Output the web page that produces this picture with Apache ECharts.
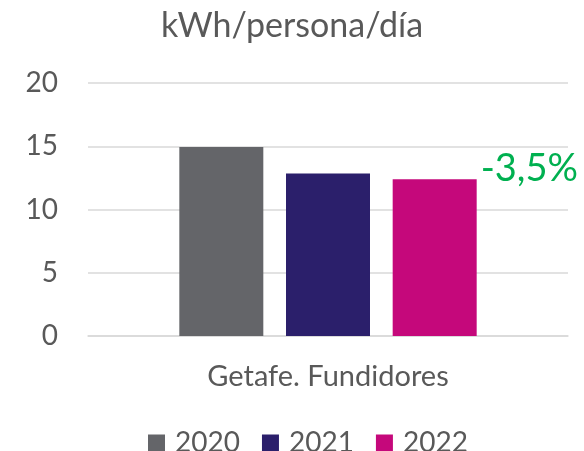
<!DOCTYPE html>
<html>
<head>
<meta charset="utf-8">
<script src="https://cdn.jsdelivr.net/npm/echarts@6/dist/echarts.min.js"></script>
<style>
  html, body { margin: 0; padding: 0; background: #fff; }
  #chart { width: 584px; height: 451px; }
</style>
</head>
<body>
<div id="chart"></div>
<script>
const categories = ['Getafe. Fundidores'];
const years = ['2020', '2021', '2022'];
const values2020 = [14.95];
const values2021 = [12.85];
const values2022 = [12.4];
const changeLabel = '-3,5%';
const yTicks = { min: 0, max: 20, interval: 5 };

const colors = ['#646569', '#2b1f6b', '#c5087b'];
const font = 'Lato, "Open Sans", sans-serif';

const chart = echarts.init(document.getElementById('chart'));
chart.setOption({
  animation: false,
  title: {
    text: 'kWh/persona/día',
    left: 'center',
    top: 4,
    textStyle: { fontFamily: font, fontSize: 34, fontWeight: 'normal', color: '#595959' }
  },
  legend: {
    top: 424,
    left: 143,
    itemWidth: 17,
    itemHeight: 17,
    itemGap: 22,
    icon: 'rect',
    textStyle: { fontFamily: font, fontSize: 28, color: '#595959', padding: [0, 0, 0, 5] },
    data: years
  },
  grid: { left: 88, right: 16, top: 83, bottom: 115 },
  xAxis: {
    type: 'category',
    data: categories,
    axisLine: { lineStyle: { color: '#d9d9d9', width: 1.5 } },
    axisTick: { show: false },
    axisLabel: { fontFamily: font, fontSize: 29, color: '#595959', margin: 26 }
  },
  yAxis: {
    type: 'value',
    min: yTicks.min,
    max: yTicks.max,
    interval: yTicks.interval,
    axisLine: { show: false },
    axisTick: { show: false },
    splitLine: { lineStyle: { color: '#d9d9d9', width: 1.5 } },
    axisLabel: { fontFamily: font, fontSize: 28, color: '#595959', margin: 30 }
  },
  series: [
    { name: years[0], type: 'bar', data: values2020, barWidth: 84, barGap: '27%', itemStyle: { color: colors[0] } },
    { name: years[1], type: 'bar', data: values2021, barWidth: 84, barGap: '27%', itemStyle: { color: colors[1] } },
    {
      name: years[2], type: 'bar', data: values2022, barWidth: 84, barGap: '27%',
      itemStyle: { color: colors[2] },
      label: {
        show: true,
        position: [88, -10],
        verticalAlign: 'middle',
        formatter: changeLabel,
        fontFamily: font,
        fontSize: 38,
        color: '#00b050'
      }
    }
  ]
});
</script>
</body>
</html>
